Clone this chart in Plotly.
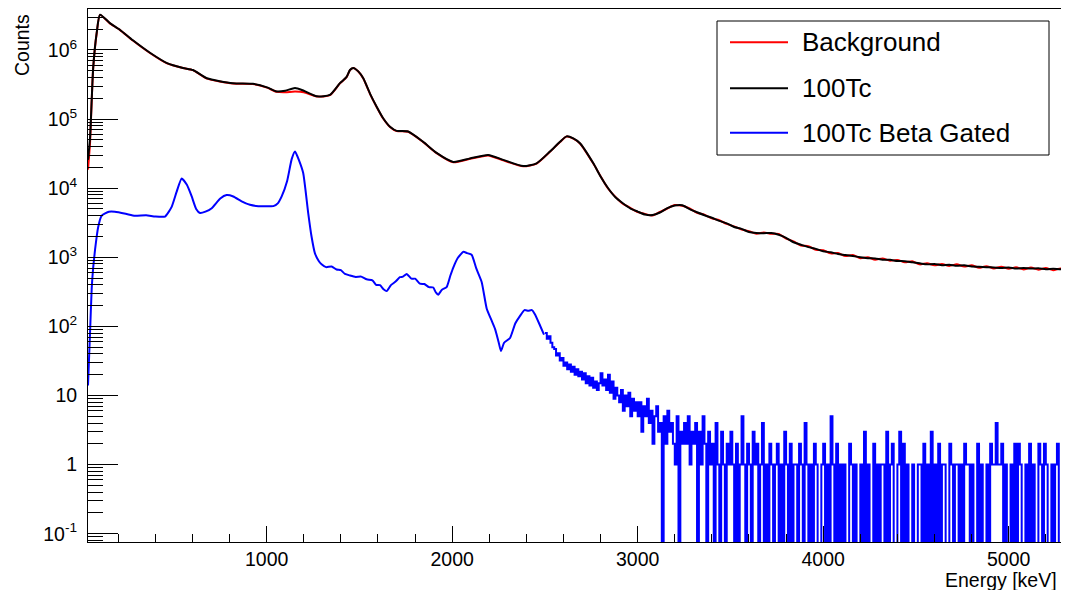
import numpy as np
import plotly.graph_objects as go

# ---------------- data ----------------
# Shared energy grid (keV) for Background and 100Tc spectra
energy_keV = [37, 48, 57, 65, 84, 102, 155, 210, 279, 371, 463, 549, 603, 678, 818, 926,
              1002, 1054, 1100, 1153, 1200, 1270, 1341, 1395, 1431, 1449, 1467, 1494, 1521,
              1557, 1593, 1629, 1665, 1701, 1763, 1844, 1916, 2006, 2096, 2194, 2275, 2383,
              2455, 2527, 2581, 2617, 2653, 2689, 2761,
              2800, 2840, 2880, 2920, 2960, 3000, 3040, 3080, 3120, 3160, 3200, 3240, 3280,
              3320, 3360, 3400, 3440, 3480, 3520, 3560, 3600, 3640, 3680, 3720, 3760, 3800,
              3840, 3880, 3920, 3960, 4000, 4040, 4080, 4120, 4160, 4200, 4240, 4280, 4320,
              4360, 4400, 4440, 4480, 4520, 4560, 4600, 4640, 4680, 4720, 4760, 4800, 4840,
              4880, 4920, 4960, 5000, 5040, 5080, 5120, 5160, 5200, 5240, 5280, 5320]

tc100_counts = [25700, 53700, 190500, 550000, 1780000, 3240000, 2450000, 1950000, 1380000,
                912000, 646000, 550000, 513000, 389000, 331000, 324000, 288000, 251000,
                257000, 282000, 257000, 214000, 224000, 331000, 407000, 513000, 550000,
                490000, 389000, 234000, 151000, 102000, 77600, 67600, 66100, 46800, 32400,
                24000, 26900, 30200, 25700, 20900, 22900, 33900, 46800, 56200, 52500, 44700,
                22900,
                14790, 10050, 7380, 6050, 5110, 4590, 4150, 4090, 4450, 5150, 5600, 5650,
                4990, 4480, 4060, 3730, 3370, 3100, 2740, 2580, 2330, 2250, 2230, 2250, 2120,
                1915, 1650, 1520, 1405, 1325, 1225, 1180, 1115, 1080, 1040, 1005, 970, 960,
                925, 918, 885, 876, 845, 818, 790, 800, 770, 781, 752, 765, 736, 728, 718,
                712, 702, 714, 688, 697, 686, 695, 672, 680, 670, 679]

background_counts = [18600, 45000, 185000, 545000, 1760000, 3220000, 2430000, 1940000, 1370000,
                     905000, 640000, 548000, 510000, 385000, 328000, 322000, 285000, 248000,
                     245000, 250000, 245000, 212000, 222000, 328000, 404000, 510000, 548000,
                     487000, 386000, 232000, 150000, 101000, 77000, 67000, 65500, 46400, 32100,
                     23700, 26600, 29800, 25300, 20700, 22700, 33600, 46500, 55800, 52200, 44300,
                     22700,
                     14900, 9900, 7480, 5950, 5200, 4520, 4230, 4020, 4520, 5080, 5700, 5560,
                     5080, 4400, 4140, 3650, 3440, 3040, 2800, 2520, 2390, 2190, 2290, 2190,
                     2180, 1860, 1700, 1480, 1450, 1280, 1265, 1140, 1150, 1040, 1080, 970, 1000,
                     925, 960, 890, 915, 845, 875, 790, 820, 765, 800, 750, 790, 735, 765, 705,
                     745, 690, 730, 680, 715, 665, 710, 660, 700, 650, 690, 640]

# 100Tc beta-gated: smooth high-statistics part
gated_energy_keV = [37, 48, 57, 65, 75, 92, 110, 150, 182, 240, 290, 350, 400, 452, 488, 515,
                    542, 570, 596, 620, 641, 670, 704, 750, 784, 820, 865, 910, 955, 1000,
                    1036, 1060, 1081, 1110, 1135, 1153, 1175, 1197, 1224, 1242, 1260, 1280,
                    1296, 1320, 1350, 1377, 1400, 1422, 1449, 1480, 1510, 1539, 1570, 1590,
                    1611, 1630, 1647, 1670, 1695, 1718, 1735, 1755, 1780, 1800, 1826, 1850,
                    1875, 1898, 1912, 1925, 1945, 1970, 1990, 2006, 2030, 2060, 2080, 2105,
                    2130, 2159, 2186, 2210, 2231, 2250, 2263, 2280, 2312, 2340, 2366, 2390,
                    2410, 2430, 2446, 2473, 2495]
gated_counts = [14, 81, 355, 708, 1290, 2750, 3980, 4570, 4570, 4270, 3980, 4070, 3890, 3890,
                5370, 8910, 13800, 11200, 7590, 5010, 4370, 4570, 5130, 7080, 7940, 7590, 6460,
                5750, 5500, 5500, 5500, 6030, 7590, 12600, 26300, 33900, 25100, 16600, 4370,
                2000, 1150, 891, 790, 720, 735, 665, 650, 575, 545, 520, 525, 480, 465, 400,
                395, 345, 324, 395, 445, 515, 525, 575, 490, 490, 415, 410, 370, 365, 310, 288,
                340, 370, 540, 710, 975, 1200, 1150, 1090, 690, 440, 182, 126, 92, 60, 44, 58,
                68, 110, 142, 172, 168, 172, 150, 104, 76]

# 100Tc beta-gated: low-statistics tail, 10 keV bins starting at 2500 keV
gated_tail_start_keV = 2500
gated_tail_bin_keV = 10
gated_tail_counts = [
    80, 66, 72, 58, 50, 47, 38, 41, 32, 35,
    27, 30, 24, 28, 22, 26, 20, 24, 19, 22,
    17, 21, 15, 19, 14, 18, 13, 16, 12, 15,
    21, 14, 17, 12, 20, 11, 16, 9, 13, 10,
    8, 12, 6, 10, 7, 11, 5, 9, 6, 8,
    5, 8, 3, 7, 5, 9, 4, 6, 2, 5,
    7, 3, 4, 0, 5, 2, 6, 3, 4, 2,
    1, 5, 0, 3, 2, 4, 2, 5, 1, 3,
    2, 4, 0, 3, 1, 5, 2, 0, 3, 1,
    2, 0, 4, 1, 0, 3, 1, 0, 2, 1,
    3, 1, 0, 2, 0, 1, 5, 1, 0, 2,
    1, 0, 3, 1, 2, 0, 1, 4, 0, 1,
    0, 2, 1, 0, 1, 2, 0, 1, 0, 3,
    1, 0, 2, 0, 1, 1, 0, 2, 1, 0,
    4, 1, 0, 1, 0, 2, 1, 0, 0, 1,
    2, 0, 1, 0, 5, 1, 0, 2, 0, 1,
    0, 1, 0, 0, 2, 1, 0, 1, 0, 0,
    1, 0, 3, 0, 1, 0, 0, 2, 0, 1,
    0, 1, 1, 0, 3, 0, 1, 2, 0, 0,
    1, 3, 0, 2, 0, 1, 0, 0, 1, 0,
    0, 1, 1, 0, 2, 0, 1, 0, 3, 0,
    1, 0, 2, 0, 1, 1, 0, 0, 2, 1,
    0, 1, 1, 0, 1, 0, 2, 1, 1, 0,
    1, 0, 0, 2, 0, 1, 0, 0, 1, 0,
    2, 1, 1, 4, 1, 1, 2, 0, 1, 0,
    0, 1, 0, 2, 0, 2, 1, 0, 0, 1,
    0, 2, 0, 1, 0, 0, 2, 1, 0, 2,
    1, 0, 0, 1, 0, 1, 2, 0, 0, 1,
    1, 0, 1]

series_names = ["Background", "100Tc", "100Tc Beta Gated"]
y_tick_values = [0.1, 1, 10, 100, 1000, 10000, 100000, 1000000]
y_tick_labels = ["10<sup>-1</sup>", "1", "10", "10<sup>2</sup>", "10<sup>3</sup>",
                 "10<sup>4</sup>", "10<sup>5</sup>", "10<sup>6</sup>"]
x_tick_values = [1000, 2000, 3000, 4000, 5000]

# ---------------- figure ----------------
RED, BLACK, BLUE = "#ff0000", "#000000", "#0000ff"
FONT = "Liberation Sans, Arial, Helvetica, sans-serif"
OFF = 8                      # page body margin of the html page
W, H = 1069 - OFF, 590 - OFF
PLOT_L, PLOT_T, PLOT_R, PLOT_B = 88, 9, 1069, 542   # plot frame in window pixels
L, T = PLOT_L - OFF, PLOT_T - OFF
R = W - (PLOT_R - OFF)
B = H - (PLOT_B - OFF)
PW, PH = PLOT_R - PLOT_L, PLOT_B - PLOT_T

def px(xp):  # window pixel -> paper x
    return (xp - PLOT_L) / PW

def py(yp):  # window pixel -> paper y
    return (PLOT_B - yp) / PH

# empty bins are drawn down to the bottom of the frame, as in ROOT
floor = 1e-2
tail_x = list(gated_tail_start_keV + gated_tail_bin_keV * np.arange(len(gated_tail_counts) + 1))
tail_y = [c if c > 0 else floor for c in gated_tail_counts]
tail_y = tail_y + [tail_y[-1]]

fig = go.Figure()
fig.add_trace(go.Scatter(x=energy_keV, y=background_counts, mode="lines", name=series_names[0],
                         line=dict(color=RED, width=2, shape="spline", smoothing=0.6),
                         showlegend=False))
fig.add_trace(go.Scatter(x=energy_keV, y=tc100_counts, mode="lines", name=series_names[1],
                         line=dict(color=BLACK, width=2, shape="spline", smoothing=0.6),
                         showlegend=False))
fig.add_trace(go.Scatter(x=gated_energy_keV, y=gated_counts, mode="lines", name=series_names[2],
                         line=dict(color=BLUE, width=2, shape="spline", smoothing=0.5),
                         showlegend=False))
fig.add_trace(go.Scatter(x=tail_x, y=tail_y, mode="lines", name=series_names[2],
                         line=dict(color=BLUE, width=2, shape="hv"), showlegend=False))

fig.update_layout(
    width=W, height=H,
    margin=dict(l=L, r=R, t=T, b=B, pad=0),
    paper_bgcolor="white", plot_bgcolor="white",
    font=dict(family=FONT, size=19.5, color="black"),
)
fig.update_xaxes(
    range=[37, 5325], showgrid=False, zeroline=False,
    showline=True, linecolor="black", linewidth=1, mirror=True,
    tickmode="array", tickvals=x_tick_values, ticks="inside", ticklen=16,
    tickcolor="black", tickwidth=1,
    minor=dict(ticks="inside", ticklen=8, dtick=200, tick0=0, tickcolor="black", showgrid=False),
    tickfont=dict(family=FONT, size=19.5),
)
fig.update_yaxes(
    type="log", range=[-1.12, 6.593], showgrid=False, zeroline=False,
    showline=True, linecolor="black", linewidth=1, mirror=False,
    tickmode="array", tickvals=y_tick_values, ticktext=y_tick_labels,
    ticks="inside", ticklen=30, tickcolor="black", tickwidth=1,
    minor=dict(ticks="inside", ticklen=15, dtick="D1", tickcolor="black", showgrid=False),
    tickfont=dict(family=FONT, size=19.5), ticklabelstandoff=6,
)

# axis titles (ROOT style: top of y, right end of x)
fig.add_annotation(text="Counts", xref="paper", yref="paper", x=px(22), y=py(12),
                   xanchor="center", yanchor="top", textangle=-90, showarrow=False,
                   font=dict(family=FONT, size=19.5, color="black"))
fig.add_annotation(text="Energy [keV]", xref="paper", yref="paper", x=px(1059), y=py(579.5),
                   xanchor="right", yanchor="middle", showarrow=False,
                   font=dict(family=FONT, size=19.5, color="black"))

# legend box
fig.add_shape(type="rect", xref="paper", yref="paper", x0=px(717), x1=px(1049),
              y0=py(155), y1=py(21), line=dict(color="black", width=1), fillcolor="white",
              layer="above")
legend_rows = [42.3, 88.3, 132.7]
for name, col, yy in zip(series_names, [RED, BLACK, BLUE], legend_rows):
    fig.add_shape(type="line", xref="paper", yref="paper", x0=px(730), x1=px(788),
                  y0=py(yy), y1=py(yy), line=dict(color=col, width=2), layer="above")
    fig.add_annotation(text=name, xref="paper", yref="paper", x=px(800), y=py(yy),
                       xanchor="left", yanchor="middle", showarrow=False,
                       font=dict(family=FONT, size=26, color="black"))

fig.write_html("out.html")
